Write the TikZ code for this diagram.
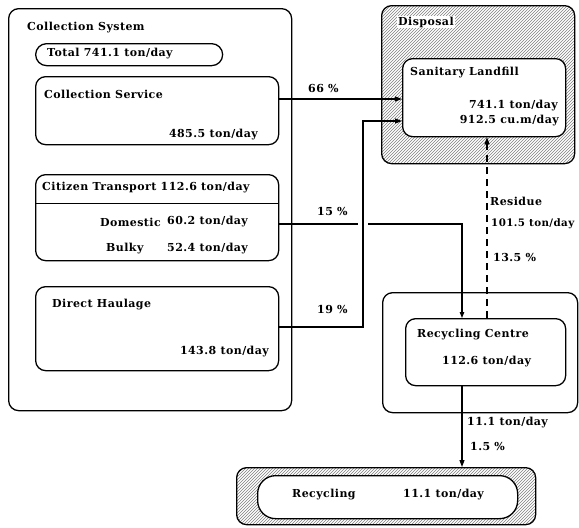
\documentclass[tikz,border=0pt]{standalone}
\usepackage{fontspec}
\setmainfont{DejaVu Serif}[LetterSpace=4]
\usetikzlibrary{patterns,arrows.meta}
\begin{document}
\begin{tikzpicture}[x=1pt,y=-1pt,
  font=\bfseries\fontsize{11}{13}\selectfont,
  box/.style={draw,line width=1.3pt,rounded corners=10pt,fill=white,anchor=north west,inner sep=0pt},
  hatchbox/.style={draw,line width=1.3pt,rounded corners=10pt,anchor=north west,inner sep=0pt,
    pattern=north east lines,pattern color=black!50},
  lbl/.style={inner sep=0pt},
  link/.style={line width=1.1pt},
  flow/.style={link,-{Triangle[length=7pt,width=5pt]}}
]
\fill[white] (0,0) rectangle (579,528);
\useasboundingbox (0,0) rectangle (579,528);

% ---- collection system ----
\node[box,minimum width=283pt,minimum height=402pt] (col) at (8,8) {};
\node[lbl,anchor=west] (coltitle) at (27,28) {Collection System};
\node[box,rounded corners=11pt,minimum width=187pt,minimum height=22pt] (tot) at (35,43) {};
\node[lbl,anchor=west] (tottxt) at (47,54) {Total 741.1 ton/day};

\node[box,minimum width=243pt,minimum height=68pt] (cs) at (35,76) {};
\node[lbl,anchor=west] (cstitle) at (44,94) {Collection Service};
\node[lbl,anchor=east] (csval) at (258,135) {485.5 ton/day};

\node[box,minimum width=243pt,minimum height=86pt] (ct) at (35,174) {};
\draw[line width=1pt] (ct.west |- 0,203) -- (ct.east |- 0,203);
\node[lbl,anchor=west] (cttitle) at (42,188) {Citizen Transport 112.6 ton/day};
\node[lbl,anchor=east] (dom) at (161,222) {Domestic};
\node[lbl,anchor=west] (domval) at (167,222) {60.2 ton/day};
\node[lbl,anchor=west] (bul) at (106,249) {Bulky};
\node[lbl,anchor=west] (bulval) at (167,249) {52.4 ton/day};

\node[box,minimum width=243pt,minimum height=84pt] (dh) at (35,286) {};
\node[lbl,anchor=west] (dhtitle) at (52,305) {Direct Haulage};
\node[lbl,anchor=east] (dhval) at (269,352) {143.8 ton/day};

% ---- disposal ----
\node[hatchbox,minimum width=193pt,minimum height=158pt] (dis) at (381,5) {};
\node[lbl,anchor=west,fill=white,inner sep=1pt] (distitle) at (397,22) {Disposal};
\node[box,minimum width=163pt,minimum height=78pt] (lf) at (402,58) {};
\node[lbl,anchor=west] (lftitle) at (410,73) {Sanitary Landfill};
\node[lbl,anchor=east] (lfton) at (558,106) {741.1 ton/day};
\node[lbl,anchor=east] (lfvol) at (559,121) {912.5 cu.m/day};

% ---- recycling centre ----
\node[box,minimum width=195pt,minimum height=120pt] (rb) at (382,292) {};
\node[box,minimum width=160pt,minimum height=67pt] (rc) at (405,318) {};
\node[lbl,anchor=west] (rctitle) at (417,335) {Recycling Centre};
\node[lbl,anchor=west] (rcval) at (442,362) {112.6 ton/day};

% ---- recycling ----
\node[hatchbox,minimum width=299pt,minimum height=57pt] (rh) at (236,467) {};
\node[box,rounded corners=18pt,minimum width=260pt,minimum height=43pt] (rp) at (257,475) {};
\node[lbl,anchor=west] (rptitle) at (292,495) {Recycling};
\node[lbl,anchor=west] (rpval) at (403,495) {11.1 ton/day};

% ---- flows ----
\coordinate (p66) at (402,99);
\coordinate (p19) at (363,327);
\coordinate (pin) at (402,121);
\coordinate (g1) at (358,224);
\coordinate (g2) at (368,224);
\coordinate (p15) at (462,224);
\coordinate (rx) at (487,0);

\draw[flow] (cs.east |- p66) -- (p66);
\draw[flow] (dh.east |- p19) -- (p19) |- (pin);
\draw[link] (ct.east |- g1) -- (g1);
\draw[link,-{Triangle[length=6pt,width=4.5pt]}] (g2) -- (p15) -- (p15 |- rc.north);
\draw[flow,dash pattern=on 7pt off 5pt] (rc.north -| rx) -- (lf.south -| rx);
\draw[flow] (rc.south -| p15) -- (rh.north -| p15);

% ---- flow labels ----
\node[lbl,anchor=west] (l66) at (308,88) {66 \%};
\node[lbl,anchor=west] (l15) at (317,211) {15 \%};
\node[lbl,anchor=west] (l19) at (317,309) {19 \%};
\node[lbl,anchor=west] (lres) at (490,201) {Residue};
\node[lbl,anchor=west,font=\bfseries\fontsize{10.3}{12}\selectfont] (lrest) at (491,224) {101.5 ton/day};
\node[lbl,anchor=west] (lresp) at (493,257) {13.5 \%};
\node[lbl,anchor=west] (lrec) at (467,423) {11.1 ton/day};
\node[lbl,anchor=west] (lrecp) at (470,446) {1.5 \%};
\end{tikzpicture}
\end{document}
